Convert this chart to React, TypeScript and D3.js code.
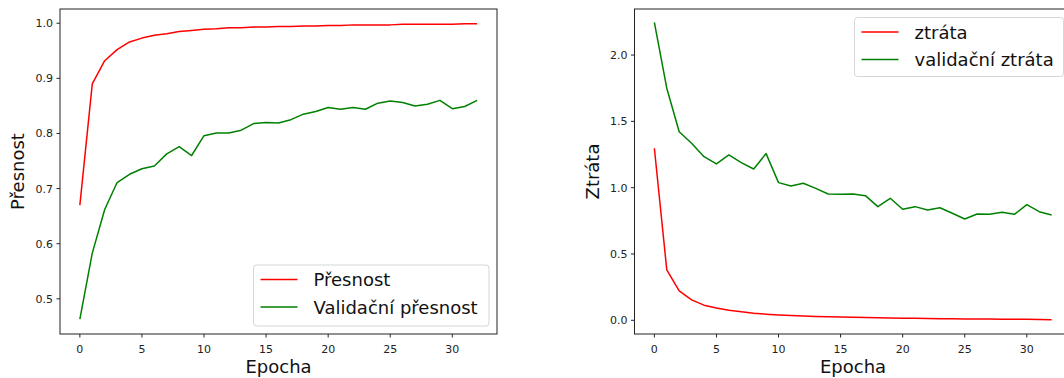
import * as d3 from 'd3';

const epochs = d3.range(0, 33);

const accuracy = [0.670, 0.890, 0.932, 0.952, 0.966, 0.973, 0.978, 0.981, 0.985, 0.987, 0.989, 0.990, 0.992, 0.992, 0.993, 0.993, 0.994, 0.994, 0.995, 0.995, 0.996, 0.996, 0.997, 0.997, 0.997, 0.997, 0.998, 0.998, 0.998, 0.998, 0.998, 0.999, 0.999];
const valAccuracy = [0.463, 0.583, 0.662, 0.711, 0.726, 0.736, 0.741, 0.763, 0.776, 0.760, 0.796, 0.801, 0.801, 0.806, 0.818, 0.820, 0.819, 0.825, 0.835, 0.840, 0.847, 0.844, 0.847, 0.844, 0.855, 0.859, 0.856, 0.850, 0.853, 0.860, 0.845, 0.849, 0.860];

const loss = [1.297, 0.380, 0.222, 0.154, 0.114, 0.092, 0.076, 0.065, 0.054, 0.046, 0.040, 0.036, 0.032, 0.029, 0.027, 0.025, 0.023, 0.021, 0.020, 0.018, 0.016, 0.015, 0.014, 0.012, 0.011, 0.010, 0.009, 0.009, 0.008, 0.007, 0.007, 0.006, 0.005];
const valLoss = [2.247, 1.750, 1.422, 1.335, 1.234, 1.179, 1.247, 1.189, 1.141, 1.257, 1.038, 1.013, 1.033, 0.995, 0.952, 0.950, 0.952, 0.940, 0.857, 0.920, 0.837, 0.857, 0.832, 0.849, 0.807, 0.764, 0.802, 0.799, 0.814, 0.799, 0.872, 0.819, 0.794];

const xTicks = [0, 5, 10, 15, 20, 25, 30];
const accTicks = [0.5, 0.6, 0.7, 0.8, 0.9, 1.0];
const lossTicks = [0.0, 0.5, 1.0, 1.5, 2.0];

const FONT = 'DejaVu Sans, sans-serif';

interface Series { name: string; values: number[]; color: string }

interface PanelProps {
  left: number; right: number; top: number; bottom: number;
  yDomain: [number, number];
  yTicks: number[];
  yLabel: string;
  yLabelX: number;
  series: Series[];
  legend: { x: number; y: number; w: number; h: number };
}

function Panel({ left, right, top, bottom, yDomain, yTicks, yLabel, yLabelX, series, legend }: PanelProps) {
  const x = d3.scaleLinear().domain([-1.6, 33.6]).range([left, right]);
  const y = d3.scaleLinear().domain(yDomain).range([bottom, top]);
  const line = d3.line<number>().x((_, i) => x(epochs[i])).y(d => y(d));
  const midX = (left + right) / 2;
  const midY = (top + bottom) / 2;

  return (
    <g fontFamily={FONT}>
      {series.map(s => (
        <path key={s.name} d={line(s.values) ?? ''} fill="none" stroke={s.color} strokeWidth={1.5} strokeLinejoin="round" />
      ))}
      <rect x={left} y={top} width={right - left} height={bottom - top} fill="none" stroke="#222" strokeWidth={1} />
      {xTicks.map(t => (
        <g key={t}>
          <line x1={x(t)} x2={x(t)} y1={bottom} y2={bottom + 3.5} stroke="#222" />
          <text x={x(t)} y={353} textAnchor="middle" fontSize={11} fill="#222">{t}</text>
        </g>
      ))}
      {yTicks.map(t => (
        <g key={t}>
          <line x1={left - 3.5} x2={left} y1={y(t)} y2={y(t)} stroke="#222" />
          <text x={left - 7} y={y(t) + 4} textAnchor="end" fontSize={11} fill="#222">{t.toFixed(1)}</text>
        </g>
      ))}
      <text x={midX} y={373} textAnchor="middle" fontSize={18} fill="#111">Epocha</text>
      <text transform={`translate(${yLabelX},${midY}) rotate(-90)`} textAnchor="middle" dominantBaseline="central" fontSize={18} fill="#111">{yLabel}</text>
      <rect x={legend.x} y={legend.y} width={legend.w} height={legend.h} rx={3} fill="#fff" fillOpacity={0.8} stroke="#d6d6d6" />
      {series.map((s, i) => {
        const ly = legend.y + 14.5 + i * 27.5;
        return (
          <g key={s.name}>
            <line x1={legend.x + 7} x2={legend.x + 44} y1={ly} y2={ly} stroke={s.color} strokeWidth={1.5} />
            <text x={legend.x + 60} y={ly + 6.5} fontSize={18} fill="#111">{s.name}</text>
          </g>
        );
      })}
    </g>
  );
}

export default function App() {
  return (
    <svg width={1064} height={378} style={{ position: 'absolute', left: 0, top: 0, background: '#fff' }}>
      <rect width={1064} height={378} fill="#fff" />
      <Panel
        left={60} right={497} top={9} bottom={334}
        yDomain={[0.4362, 1.0258]}
        yTicks={accTicks}
        yLabel="Přesnost"
        yLabelX={17.5}
        series={[
          { name: 'Přesnost', values: accuracy, color: '#ff0000' },
          { name: 'Validační přesnost', values: valAccuracy, color: '#008000' },
        ]}
        legend={{ x: 253.5, y: 265, w: 235.5, h: 61 }}
      />
      <Panel
        left={634.5} right={1071.5} top={9} bottom={334}
        yDomain={[-0.1033, 2.3473]}
        yTicks={lossTicks}
        yLabel="Ztráta"
        yLabelX={592}
        series={[
          { name: 'ztráta', values: loss, color: '#ff0000' },
          { name: 'validační ztráta', values: valLoss, color: '#008000' },
        ]}
        legend={{ x: 854.5, y: 17.5, w: 209, h: 59 }}
      />
    </svg>
  );
}
